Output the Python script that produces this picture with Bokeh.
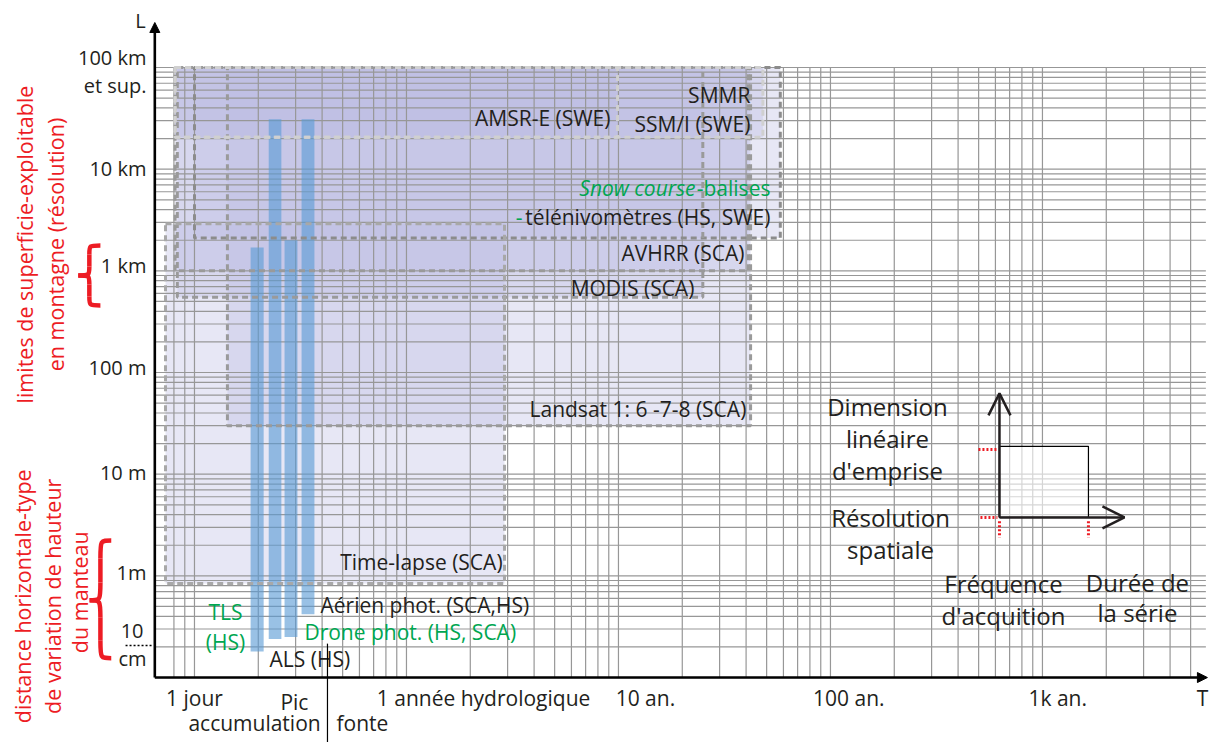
import numpy as np
from bokeh.plotting import figure
from bokeh.models import Arrow, NormalHead, OpenHead
from bokeh.core.properties import value
from bokeh.embed import file_html
from bokeh.resources import INLINE

# ---------------- data (T in years, L in metres) ----------------
box_names = ["Snow course", "AVHRR", "MODIS", "Landsat", "Time-lapse", "AMSR-E", "SMMR/SSM-I"]
box_t0 = [0.100, 0.081, 0.083, 0.143, 0.073, 0.081, 0.081]
box_t1 = [58.0, 41.0, 25.0, 42.0, 2.9, 9.9, 48.0]
box_l0 = [2100, 1000, 550, 30, 0.84, 20600, 20600]
box_l1 = [1e5, 1e5, 1e5, 1e5, 2900, 1e5, 1e5]
box_edge = ["#8c8c8c", "#9a9a9a", "#9a9a9a", "#9a9a9a", "#a8a8a8", "#cfcfcf", "#d0d0d0"]

bar_names = ["TLS", "ALS", "Drone", "Aérien"]
bar_t0 = [0.184, 0.224, 0.266, 0.320]
bar_t1 = [0.212, 0.257, 0.306, 0.368]
bar_l0 = [0.18, 0.24, 0.25, 0.42]
bar_l1 = [1700, 31000, 2000, 31000]

y_tick_pos = [125000, 66600, 10200, 1120, 112, 10.5, 1.09]
y_tick_labels = ["100 km", "et sup.", "10 km", "1 km", "100 m", "10 m", "1m"]
cm_label_pos = [0.29, 0.154]
cm_labels = ["10", "cm"]

x_tick_pos = [0.100, 0.296, 2.31, 13.4, 122, 1180, 5690]
x_tick_labels = ["1 jour", "Pic", "1 année hydrologique", "10 an.", "100 an.", "1k an.", "T"]
x_sub_pos = [0.192, 0.62]
x_sub_labels = ["accumulation", "fonte"]

dark_r_text = ["SMMR", "SSM/I (SWE)", "AMSR-E (SWE)", "télénivomètres (HS, SWE)",
               "AVHRR (SCA)", "MODIS (SCA)", "Landsat 1: 6 -7-8 (SCA)", "Time-lapse (SCA)"]
dark_r_t = [41.9, 41.9, 9.17, 52.1, 39.3, 22.8, 40.1, 2.84]
dark_r_l = [53150, 27600, 31600, 3383, 1502, 681, 43.4, 1.37]

DARK = "#231f20"
GREEN = "#00a651"
RED = "#ed1c24"
FONT = value("Open Sans")

X0, X1 = 10 ** -1.915, 10 ** 3.788
Y0, Y1 = 10 ** -1.639, 10 ** 5.659

p = figure(width=1209, height=742, x_axis_type="log", y_axis_type="log",
           x_range=(X0, X1), y_range=(Y0, Y1),
           x_axis_location=None, y_axis_location=None,
           toolbar_location=None, output_backend="svg", min_border=0)
p.grid.visible = False
p.outline_line_color = None
p.background_fill_color = "white"
p.border_fill_color = "white"

# box fills
p.quad(left=box_t0, right=box_t1, bottom=box_l0, top=box_l1,
       fill_color="#bcbce3", fill_alpha=0.36, line_color=None)

# log grid
vx = [k * d for d in [1e-2, 1e-1, 1, 10, 100, 1000] for k in range(1, 10)]
vx = [v for v in vx if 0.078 <= v <= 5600]
hy = [k * d for d in [1e-1, 1, 10, 100, 1000, 1e4] for k in range(1, 10)] + [1e5]
p.segment(x0=vx, y0=[0.1] * len(vx), x1=vx, y1=[1e5] * len(vx),
          line_color="#979797", line_width=1.2)
p.segment(x0=[0.065] * len(hy), y0=hy, x1=[5900] * len(hy), y1=hy,
          line_color="#979797", line_width=1.2)

# blue bars
p.quad(left=bar_t0, right=bar_t1, bottom=bar_l0, top=bar_l1,
       fill_color="#5b9bd5", fill_alpha=0.62, line_color=None)

# box outlines
p.quad(left=box_t0, right=box_t1, bottom=box_l0, top=box_l1,
       fill_color=None, line_color=box_edge, line_width=3, line_dash="6 4")

# axes
p.add_layout(Arrow(end=NormalHead(size=10, fill_color="black", line_color="black"),
                   x_start=0.065, y_start=0.1, x_end=0.065, y_end=277000,
                   line_color="black", line_width=2.6))
p.add_layout(Arrow(end=NormalHead(size=10, fill_color="black", line_color="black"),
                   x_start=0.065, y_start=0.1, x_end=6000, y_end=0.1,
                   line_color="black", line_width=2.6))

# inside texts
p.text(x=dark_r_t, y=dark_r_l, text=dark_r_text, text_font=FONT, text_font_size="21px",
       text_color=DARK, text_align="right", text_baseline="middle")
p.text(x=[52.1, 3.53], y=[6520, 3383], text=["-balises", "-"], text_font=FONT,
       text_font_size="21px", text_color=GREEN, text_align="right", text_baseline="middle")
p.text(x=[23.1], y=[6520], text=["Snow course"], text_font=FONT, text_font_style="italic",
       text_font_size="21px", text_color=GREEN, text_align="right", text_baseline="middle")
p.text(x=[0.393, 0.226], y=[0.52, 0.1535], text=["Aérien phot. (SCA,HS)", "ALS (HS)"],
       text_font=FONT, text_font_size="21px", text_color=DARK, text_align="left",
       text_baseline="middle")
p.text(x=[0.330], y=[0.2825], text=["Drone phot. (HS, SCA)"], text_font=FONT,
       text_font_size="21px", text_color=GREEN, text_align="left", text_baseline="middle")
p.text(x=[0.140, 0.140], y=[0.444, 0.2254], text=["TLS", "(HS)"], text_font=FONT,
       text_font_size="21px", text_color=GREEN, text_align="center", text_baseline="middle")

# y labels
p.text(x=[0.0594] * len(y_tick_pos), y=y_tick_pos, text=y_tick_labels, text_font=FONT,
       text_font_size="20px", text_color=DARK, text_align="right", text_baseline="middle")
p.text(x=[0.0575, 0.0594], y=cm_label_pos, text=cm_labels, text_font=FONT,
       text_font_size="20px", text_color=DARK, text_align="right", text_baseline="middle")
p.segment(x0=[0.0473], y0=[0.206], x1=[0.064], y1=[0.206], line_color="black",
          line_width=1.5, line_dash="2 2")
p.text(x=[0.0556], y=[290000], text=["L"], text_font=FONT, text_font_size="20px",
       text_color=DARK, text_align="center", text_baseline="middle")

# x labels
x_lab_y = [0.0624, 0.057, 0.0624, 0.0624, 0.0624, 0.0624, 0.0624]
p.text(x=x_tick_pos, y=x_lab_y, text=x_tick_labels, text_font=FONT, text_font_size="21px",
       text_color=DARK, text_align="center", text_baseline="middle")
p.text(x=x_sub_pos, y=[0.0355, 0.0355], text=x_sub_labels, text_font=FONT,
       text_font_size="21px", text_color=DARK, text_align="center", text_baseline="middle")
p.segment(x0=[0.424], y0=[0.2155], x1=[0.424], y1=[Y0], line_color="black", line_width=1.2)

# red side labels
p.text(x=[0.0158, 0.0221], y=[1815, 1815],
       text=["limites de superficie-exploitable", "en montagne (résolution)"],
       angle=np.pi / 2, text_font=FONT, text_font_size="21.5px", text_color=RED,
       text_align="center", text_baseline="middle")
p.text(x=[0.01545, 0.0214, 0.0287], y=[0.63, 0.63, 0.69],
       text=["distance horizontale-type", "de variation de hauteur", "du manteau"],
       angle=np.pi / 2, text_font=FONT, text_font_size="21.5px", text_color=RED,
       text_align="center", text_baseline="middle")


def brace(t_tip, t_end, l_top, l_mid, l_bot):
    xl, xr = np.log10(t_tip), np.log10(t_end)
    xm = (xl + xr) / 2
    yt, ym, yb = np.log10(l_top), np.log10(l_mid), np.log10(l_bot)
    q1, q2 = (yt - ym) * 0.3, (ym - yb) * 0.3
    segs = np.array([
        (xr, yt, xm, yt - q1, xm, yt, xm, yt),
        (xm, yt - q1, xm, ym + q1, xm, yt - q1, xm, ym + q1),
        (xm, ym + q1, xl, ym, xm, ym, xm, ym),
        (xl, ym, xm, ym - q2, xm, ym, xm, ym),
        (xm, ym - q2, xm, yb + q2, xm, ym - q2, xm, yb + q2),
        (xm, yb + q2, xr, yb, xm, yb, xm, yb),
    ])
    s = 10 ** segs
    p.bezier(x0=s[:, 0], y0=s[:, 1], x1=s[:, 2], y1=s[:, 3], cx0=s[:, 4], cy0=s[:, 5],
             cx1=s[:, 6], cy1=s[:, 7], line_color=RED, line_width=4.5)


brace(0.0283, 0.0360, 1778, 902, 457)
brace(0.0320, 0.0405, 2.23, 0.574, 0.155)

# legend schematic
p.quad(left=[627], right=[1648], bottom=[3.76], top=[18.8], fill_color="white",
       fill_alpha=0.6, line_color="black", line_width=1.2)
p.add_layout(Arrow(end=OpenHead(size=22, line_width=2.5, line_color=DARK),
                   x_start=627, y_start=3.76, x_end=627, y_end=62.3,
                   line_color=DARK, line_width=2.5))
p.add_layout(Arrow(end=OpenHead(size=22, line_width=2.5, line_color=DARK),
                   x_start=627, y_start=3.76, x_end=2437, y_end=3.76,
                   line_color=DARK, line_width=2.5))
p.segment(x0=[499, 510, 627, 1648], y0=[17.5, 3.76, 3.44, 3.44],
          x1=[613, 613, 627, 1648], y1=[17.5, 3.76, 2.39, 2.39],
          line_color=RED, line_width=3, line_dash="2 2")
p.text(x=[185.7, 185.7, 185.7, 192, 192, 655, 655, 2806, 2806],
       y=[46.4, 22.5, 10.9, 3.76, 1.82, 0.844, 0.409, 0.864, 0.438],
       text=["Dimension", "linéaire", "d'emprise", "Résolution", "spatiale",
             "Fréquence", "d'acquition", "Durée de", "la série"],
       text_font=FONT, text_font_size="24px", text_color=DARK, text_align="center",
       text_baseline="middle")

open("out.html", "w").write(file_html(p, INLINE))
